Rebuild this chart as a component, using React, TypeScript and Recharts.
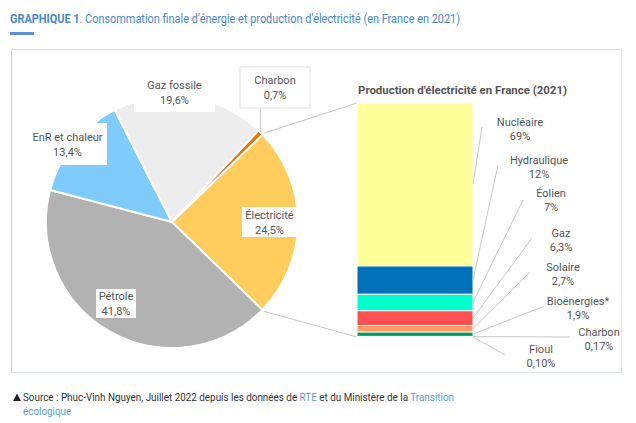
import React, { useLayoutEffect, useRef, useState } from "react";
import { PieChart, Pie, Cell, BarChart, Bar, XAxis, YAxis } from "recharts";

// consommation finale d'énergie (%)
const pieNames = ["Électricité", "Pétrole", "EnR et chaleur", "Gaz fossile", "Charbon"];
const pieValues = [24.5, 41.8, 13.4, 19.6, 0.7];
const pieColors = ["#FFCC5E", "#B2B2B2", "#7FCBFC", "#EDEDED", "#E8700E"];

// production d'électricité (%), bottom to top of the stacked bar
const barNames = ["Fioul", "Charbon", "Bioénergies*", "Solaire", "Gaz", "Éolien", "Hydraulique", "Nucléaire"];
const barValues = [0.1, 0.17, 1.9, 2.7, 6.3, 7, 12, 69];
const barColors = ["#9DC3E6", "#7F7F7F", "#009966", "#FF9966", "#FF5050", "#00FFCC", "#0070B8", "#FFFF99"];

const TEXT = "#555";
const FONT = "Roboto, 'Noto Sans', sans-serif";
const BLUE = "#4A88C9";
const LINK = "#5B9BD5";

// pie geometry
const CX = 172;
const CY = 222;
const R = 126;
const START = 44;

// bar plot area
const BAR_L = 357;
const BAR_R = 473;
const BAR_T = 103;
const BAR_B = 337;

// label boxes for the pie slices
const pieLabelBox = [
  { x: 242, y: 207, w: 55, h: 30, border: false },
  { x: 96, y: 289, w: 40, h: 29, border: false },
  { x: 28, y: 123, w: 79, h: 42, border: false },
  { x: 134, y: 72, w: 81, h: 40, border: false },
  { x: 240, y: 67, w: 70, h: 41, border: true },
];

// label text centre and leader anchor for the bar segments
const barLabelPos = [
  { tx: 541, ty: 349, ax: 505, ay: 355 },
  { tx: 599, ty: 332, ax: 570, ay: 337 },
  { tx: 578, ty: 301, ax: 542, ay: 307 },
  { tx: 563, ty: 267, ax: 530, ay: 272 },
  { tx: 561, ty: 233, ax: 532, ay: 238 },
  { tx: 551, ty: 193, ax: 523, ay: 200 },
  { tx: 539, ty: 160, ax: 498, ay: 165 },
  { tx: 520, ty: 122, ax: 482, ay: 127 },
];

const fmtPie = (v: number) => String(v).replace(".", ",") + "%";
const fmtBar = (v: number) => (v < 1 ? v.toFixed(2) : String(v)).replace(".", ",") + "%";

const pieData = pieNames.map((name, i) => ({ name, value: pieValues[i] }));
const barRow: Record<string, number | string> = { name: "2021" };
barNames.forEach((n, i) => (barRow[n] = barValues[i]));
const barData = [barRow];
const barTotal = barValues.reduce((a, b) => a + b, 0);

const pieTotal = pieValues.reduce((a, b) => a + b, 0);
const sliceAngles = (() => {
  let a = START;
  return pieValues.map((v) => {
    const s = a;
    a -= (v / pieTotal) * 360;
    return { start: s, end: a };
  });
})();
const polar = (deg: number, r: number) => ({
  x: CX + r * Math.cos((deg * Math.PI) / 180),
  y: CY - r * Math.sin((deg * Math.PI) / 180),
});

function PieLabel(props: any) {
  const i = props.index;
  const b = pieLabelBox[i];
  const mid = b.x + b.w / 2;
  const cyy = b.y + b.h / 2;
  let leader = null;
  if (b.border) {
    const a = (sliceAngles[i].start + sliceAngles[i].end) / 2;
    const p = polar(a, R);
    leader = <line x1={p.x} y1={p.y} x2={p.x} y2={b.y + b.h} stroke="#C8C8C8" strokeWidth={1} />;
  }
  return (
    <g>
      {leader}
      <rect x={b.x} y={b.y} width={b.w} height={b.h} fill="#fff" stroke={b.border ? "#E2E2E2" : "none"} />
      <text x={mid} y={cyy - 7} textAnchor="middle" dominantBaseline="central" fontSize={11} fill={TEXT} fontFamily={FONT}>
        {pieNames[i]}
      </text>
      <text x={mid} y={cyy + 8} textAnchor="middle" dominantBaseline="central" fontSize={11} fill={TEXT} fontFamily={FONT}>
        {fmtPie(pieValues[i])}
      </text>
    </g>
  );
}

function barLabel(i: number) {
  return (props: any) => {
    const x = Number(props.x);
    const y = Number(props.y);
    const w = Number(props.width);
    const h = Number(props.height);
    const p = barLabelPos[i];
    return (
      <g>
        <line x1={p.ax} y1={p.ay} x2={x + w} y2={y + h / 2} stroke="#C8C8C8" strokeWidth={1} />
        <text x={p.tx} y={p.ty} textAnchor="middle" dominantBaseline="central" fontSize={11} fill={TEXT} fontFamily={FONT}>
          {barNames[i]}
        </text>
        <text x={p.tx} y={p.ty + 14} textAnchor="middle" dominantBaseline="central" fontSize={11} fill={TEXT} fontFamily={FONT}>
          {fmtBar(barValues[i])}
        </text>
      </g>
    );
  };
}

// a one-line html text, squeezed horizontally to a given width
function FitLine({ left, top, width, size, color, children }: any) {
  const ref = useRef<HTMLDivElement>(null);
  const [s, setS] = useState(1);
  useLayoutEffect(() => {
    if (ref.current && ref.current.scrollWidth > 0) setS(width / ref.current.scrollWidth);
  }, [width]);
  return (
    <div
      ref={ref}
      style={{
        position: "absolute",
        left,
        top,
        fontSize: size,
        lineHeight: 1,
        color,
        whiteSpace: "nowrap",
        transform: `scaleX(${s})`,
        transformOrigin: "0 0",
      }}
    >
      {children}
    </div>
  );
}

export default function App() {
  const elec = sliceAngles[0];
  const up = polar(elec.start, R + 2);
  const down = polar(elec.end, R + 2);
  return (
    <div
      style={{
        position: "absolute",
        left: 0,
        top: 0,
        width: 636,
        height: 423,
        background: "#fff",
        overflow: "hidden",
        fontFamily: FONT,
      }}
    >
      <div
        style={{
          position: "absolute",
          left: 11,
          top: 49,
          width: 611,
          height: 324,
          borderTop: "1px solid #DCDCDC",
          borderRight: "1px solid #E4E8EE",
          borderBottom: "1px solid #DCE2EA",
          borderLeft: "1px solid #C9D2DE",
          boxSizing: "border-box",
        }}
      />
      <FitLine left={10} top={12} width={450} size={13.5} color={BLUE}>
        <b>GRAPHIQUE 1</b>. Consommation finale d’énergie et production d’électricité (en France en 2021)
      </FitLine>
      <FitLine left={23} top={391.5} width={431} size={11.5} color="#333">
        Source : Phuc-Vinh Nguyen, Juillet 2022 depuis les données de <span style={{ color: LINK }}>RTE</span> et du
        Ministère de la <span style={{ color: LINK }}>Transition</span>
      </FitLine>
      <FitLine left={23} top={405.5} width={48} size={11.5} color={LINK}>
        écologique
      </FitLine>
      <svg width={636} height={423} style={{ position: "absolute", left: 0, top: 0 }}>
        <rect x={10} y={32} width={24} height={3} fill="#5B93D3" />
        <text x={358} y={94} fontSize={10.5} fontWeight={700} fill={TEXT} fontFamily={FONT} textLength={209} lengthAdjust="spacingAndGlyphs">
          Production d'électricité en France (2021)
        </text>
        <path d="M13 401 L17 393.5 L21 401 Z" fill="#222" />
        <line x1={up.x} y1={up.y} x2={BAR_L} y2={BAR_T} stroke="#C8C8C8" strokeWidth={1} />
        <line x1={down.x} y1={down.y} x2={BAR_L} y2={BAR_B} stroke="#C8C8C8" strokeWidth={1} />
      </svg>
      <div style={{ position: "absolute", left: 0, top: 0 }}>
        <PieChart width={636} height={423} margin={{ top: 0, right: 0, bottom: 0, left: 0 }}>
          <Pie
            data={pieData}
            dataKey="value"
            nameKey="name"
            cx={CX}
            cy={CY}
            outerRadius={R}
            startAngle={START}
            endAngle={START - 360}
            stroke="#fff"
            strokeWidth={2}
            label={PieLabel}
            labelLine={false}
            isAnimationActive={false}
          >
            {pieData.map((d, i) => (
              <Cell key={i} fill={pieColors[i]} />
            ))}
          </Pie>
        </PieChart>
      </div>
      <div style={{ position: "absolute", left: 0, top: 0 }}>
        <BarChart
          width={636}
          height={423}
          data={barData}
          barCategoryGap={0}
          margin={{ top: BAR_T, right: 636 - BAR_R, bottom: 423 - BAR_B, left: BAR_L }}
        >
          <XAxis dataKey="name" hide />
          <YAxis hide domain={[0, barTotal]} />
          {barNames.map((n, i) => (
            <Bar
              key={n}
              dataKey={n}
              stackId="a"
              fill={barColors[i]}
              stroke="#fff"
              strokeWidth={1}
              label={barLabel(i)}
              isAnimationActive={false}
            />
          ))}
        </BarChart>
      </div>
    </div>
  );
}
